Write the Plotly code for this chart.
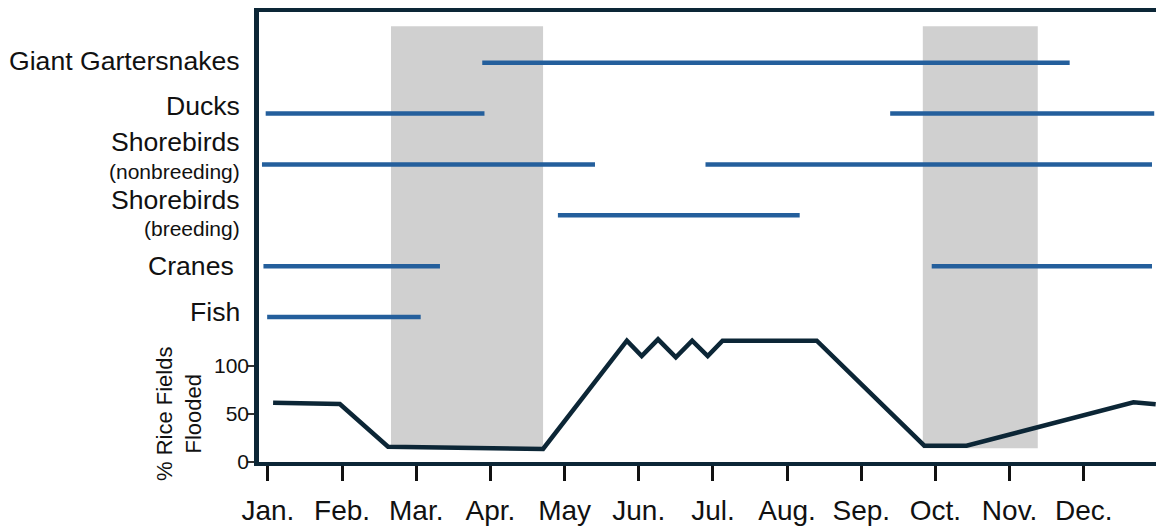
import plotly.graph_objects as go

# ---------------- data ----------------
months = ["Jan.", "Feb.", "Mar.", "Apr.", "May", "Jun.", "Jul.", "Aug.", "Sep.", "Oct.", "Nov.", "Dec."]
month_pos = list(range(1, 13))

# % rice fields flooded (x in months, Jan. = 1)
flood_x = [1.07, 1.97, 2.62, 4.71, 5.84, 6.04, 6.26, 6.50, 6.72, 6.93, 7.13, 8.40, 9.85, 10.42, 12.67, 12.97]
flood_y = [61.7, 60.3, 15.7, 13.3, 126.4, 110.4, 127.9, 109.1, 126.4, 110.4, 126.4, 126.4, 16.7, 16.7, 62.1, 60.0]

# rows (bottom to top)
species = ["Fish", "Cranes", "Shorebirds (breeding)", "Shorebirds (nonbreeding)", "Ducks", "Giant Gartersnakes"]
label_main = ["Fish", "Cranes", "Shorebirds", "Shorebirds", "Ducks", "Giant Gartersnakes"]
label_sub = ["", "", "(breeding)", "(nonbreeding)", "", ""]

# periods of use
period_species = ["Giant Gartersnakes", "Ducks", "Ducks",
                  "Shorebirds (nonbreeding)", "Shorebirds (nonbreeding)",
                  "Shorebirds (breeding)", "Cranes", "Cranes", "Fish"]
period_start = [3.89, 0.97, 9.39, 0.92, 6.90, 4.91, 0.94, 9.95, 0.99]
period_end = [11.81, 3.92, 12.95, 5.41, 12.92, 8.17, 3.32, 12.92, 3.06]

# shaded periods
shade_start = [2.66, 9.83]
shade_end = [4.71, 11.38]

# ---------------- style ----------------
FONT = "Arial, Liberation Sans, sans-serif"
NAVY = "#0c2636"
BLUE = "#245f9c"
GRAY = "#d0d0d0"

fig = go.Figure()

for s0, s1 in zip(shade_start, shade_end):
    fig.add_shape(type="rect", xref="x", yref="y", x0=s0, x1=s1, y0=14, y1=455,
                  fillcolor=GRAY, line_width=0, layer="below")

fig.add_trace(go.Scatter(x=flood_x, y=flood_y, mode="lines",
                         line=dict(color=NAVY, width=4.5), showlegend=False,
                         hoverinfo="skip", cliponaxis=False))

for sp, a, b in zip(period_species, period_start, period_end):
    fig.add_trace(go.Scatter(x=[a, b], y=[sp, sp], mode="lines", yaxis="y2",
                             line=dict(color=BLUE, width=4.5), showlegend=False,
                             hoverinfo="skip"))

# row label offsets (px) relative to row line
main_shift = [4.6, 0.4, 15.5, 22, 7.6, 1.3]
sub_shift = [0, 0, -13.6, -7.5, 0, 0]
x_shift = [0, -6, 0, 0, 0, 0]
for sp, m, s, ms, ss, xs in zip(species, label_main, label_sub, main_shift, sub_shift, x_shift):
    fig.add_annotation(x=-0.019, xref="paper", y=sp, yref="y2", text=m, showarrow=False,
                       xanchor="right", yanchor="middle", yshift=ms, xshift=xs,
                       font=dict(family=FONT, size=26.6, color="#111111"))
    if s:
        fig.add_annotation(x=-0.019, xref="paper", y=sp, yref="y2", text=s, showarrow=False,
                           xanchor="right", yanchor="middle", yshift=ss,
                           font=dict(family=FONT, size=21, color="#111111"))

fig.add_annotation(x=-0.089, xref="paper", y=50, yref="y", text="% Rice Fields<br>Flooded",
                   showarrow=False, textangle=-90, xanchor="center", yanchor="middle",
                   font=dict(family=FONT, size=22, color="#111111"))

fig.update_layout(
    width=1156, height=527,
    margin=dict(l=259, r=0, t=12, b=65),
    paper_bgcolor="white", plot_bgcolor="white",
    xaxis=dict(range=[0.880, 12.974], tickvals=month_pos, ticktext=months,
               showgrid=False, zeroline=False, showline=True, mirror=True,
               linecolor=NAVY, linewidth=4, ticks="outside", ticklen=15, tickwidth=3,
               tickcolor="#111111", ticklabelstandoff=5,
               tickfont=dict(family=FONT, size=28, color="#111111")),
    yaxis=dict(range=[-0.3, 469.9], tickvals=[0, 50, 100], showgrid=False, zeroline=False,
               showline=True, linecolor=NAVY, linewidth=4.5, ticks="outside", ticklen=7,
               tickwidth=2, tickcolor="#333333", ticklabelstandoff=-6,
               tickfont=dict(family=FONT, size=21, color="#111111")),
    yaxis2=dict(overlaying="y", type="category", categoryorder="array", categoryarray=species,
                range=[-2.848, 5.996], visible=False),
)

fig.write_html("out.html", config={"displayModeBar": False},
               post_script="document.body.style.margin='0';document.body.style.overflow='hidden';")
